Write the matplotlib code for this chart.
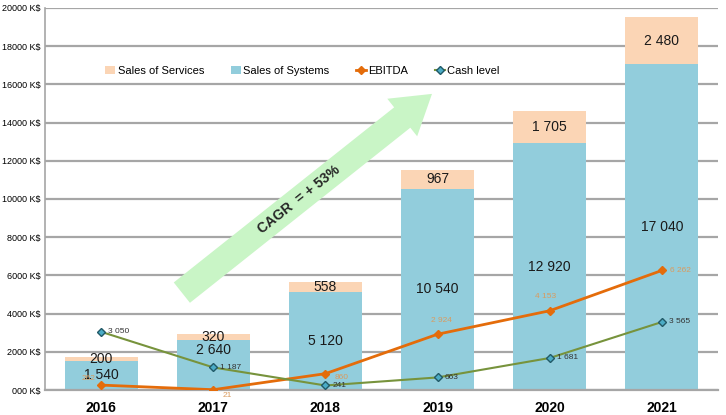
import matplotlib
matplotlib.use("Agg")
import matplotlib.pyplot as plt
import numpy as np
from matplotlib.patches import FancyArrow
from matplotlib.transforms import IdentityTransform

years = ["2016", "2017", "2018", "2019", "2020", "2021"]
systems = [1540, 2640, 5120, 10540, 12920, 17040]
services = [200, 320, 558, 967, 1705, 2480]
ebitda = [262, 21, 860, 2924, 4153, 6262]
cash = [3050, 1187, 241, 663, 1681, 3565]
yticks = list(range(0, 20001, 2000))
ytick_labels = ["000 K$"] + [f"{v} K$" for v in yticks[1:]]

def fmt(v):
    return f"{v:,}".replace(",", " ")

plt.rcParams['font.family'] = ['Liberation Sans', 'DejaVu Sans']

fig = plt.figure(figsize=(7.26, 4.15), dpi=100)
ax = fig.add_axes([0.062, 0.060, 0.927, 0.921])

x = np.arange(len(years))
c_sys = '#92cddc'
c_srv = '#fbd5b5'
c_ebit = '#e46c0a'
c_cash = '#77933c'

ax.set_axisbelow(True)
ax.yaxis.grid(True, color='#a6a6a6', linewidth=1.6)
b_sys = ax.bar(x, systems, width=0.65, color=c_sys, label='Sales of Systems', zorder=2)
b_srv = ax.bar(x, services, width=0.65, bottom=systems, color=c_srv, label='Sales of Services', zorder=2)

sys_pos = [0.5, 0.80, 0.5, 0.5, 0.5, 0.5]
for i in range(len(years)):
    ax.text(x[i], systems[i] * sys_pos[i], fmt(systems[i]), ha='center', va='center', fontsize=10, color='#1a1a1a', zorder=5)
    ax.text(x[i], systems[i] + services[i] / 2, fmt(services[i]), ha='center', va='center', fontsize=10, color='#1a1a1a', zorder=5)

l_eb, = ax.plot(x, ebitda, color=c_ebit, linewidth=2, marker='D', markersize=4, markerfacecolor=c_ebit, markeredgecolor=c_ebit, label='EBITDA', zorder=4)
l_cash, = ax.plot(x, cash, color=c_cash, linewidth=1.5, marker='D', markersize=4, markerfacecolor='#4bacc6', markeredgecolor='#215967', label='Cash level', zorder=4)

eb_off = [(-9, 5, 'center'), (10, -4, 'center'), (12, -3, 'center'), (3, 10, 'center'), (-3, 10, 'center'), (6, 0, 'left')]
for i, v in enumerate(ebitda):
    dx, dy, ha = eb_off[i]
    ax.annotate(fmt(v), (x[i], v), xytext=(dx, dy), textcoords='offset points', ha=ha, va='center',
                fontsize=6, color='#d99b5f', zorder=6)
for i, v in enumerate(cash):
    ax.annotate(fmt(v), (x[i], v), xytext=(5, 0), textcoords='offset points', ha='left', va='center',
                fontsize=6, color='#333333', zorder=6)

ax.set_xlim(-0.5, len(years) - 0.5)
ax.set_ylim(0, 20000)
ax.set_yticks(yticks)
ax.set_yticklabels(ytick_labels, fontsize=6.5)
ax.set_xticks(x)
ax.set_xticklabels(years, fontsize=10, fontweight='bold')
ax.tick_params(axis='both', length=0)
ax.tick_params(axis='x', pad=8)
ax.tick_params(axis='y', pad=3)
for s in ['top', 'right']:
    ax.spines[s].set_visible(False)
ax.spines['left'].set_color('#a6a6a6')
ax.spines['bottom'].set_color('#a6a6a6')
ax.spines['left'].set_linewidth(1.2)
ax.spines['bottom'].set_linewidth(1.6)

ax.legend([b_srv, b_sys, l_eb, l_cash], ['Sales of Services', 'Sales of Systems', 'EBITDA', 'Cash level'],
          ncol=4, loc='center left', bbox_to_anchor=(0.075, 0.835), frameon=False,
          fontsize=8, handlelength=0.9, handleheight=0.8,
          handletextpad=0.2, columnspacing=2.4)

# CAGR arrow in display coordinates
fig.canvas.draw()
p0 = ax.transData.transform((0.72, 5100))
p1 = ax.transData.transform((2.95, 15500))
d = p1 - p0
arr = FancyArrow(p0[0], p0[1], d[0], d[1], width=26, head_width=48, head_length=38,
                 length_includes_head=True, transform=IdentityTransform(),
                 facecolor='#c9f5c6', edgecolor='none', zorder=3)
ax.add_patch(arr)
ax.set_xlim(-0.5, len(years) - 0.5)
ax.set_ylim(0, 20000)
ang = np.degrees(np.arctan2(d[1], d[0]))
mid = ax.transData.inverted().transform(p0 + d * 0.47)
ax.text(mid[0], mid[1], "CAGR  = + 53%", rotation=ang, rotation_mode='anchor', ha='center', va='center',
        fontsize=10, fontweight='bold', color='#262626', zorder=7)

fig.savefig("out.png", dpi=100)
